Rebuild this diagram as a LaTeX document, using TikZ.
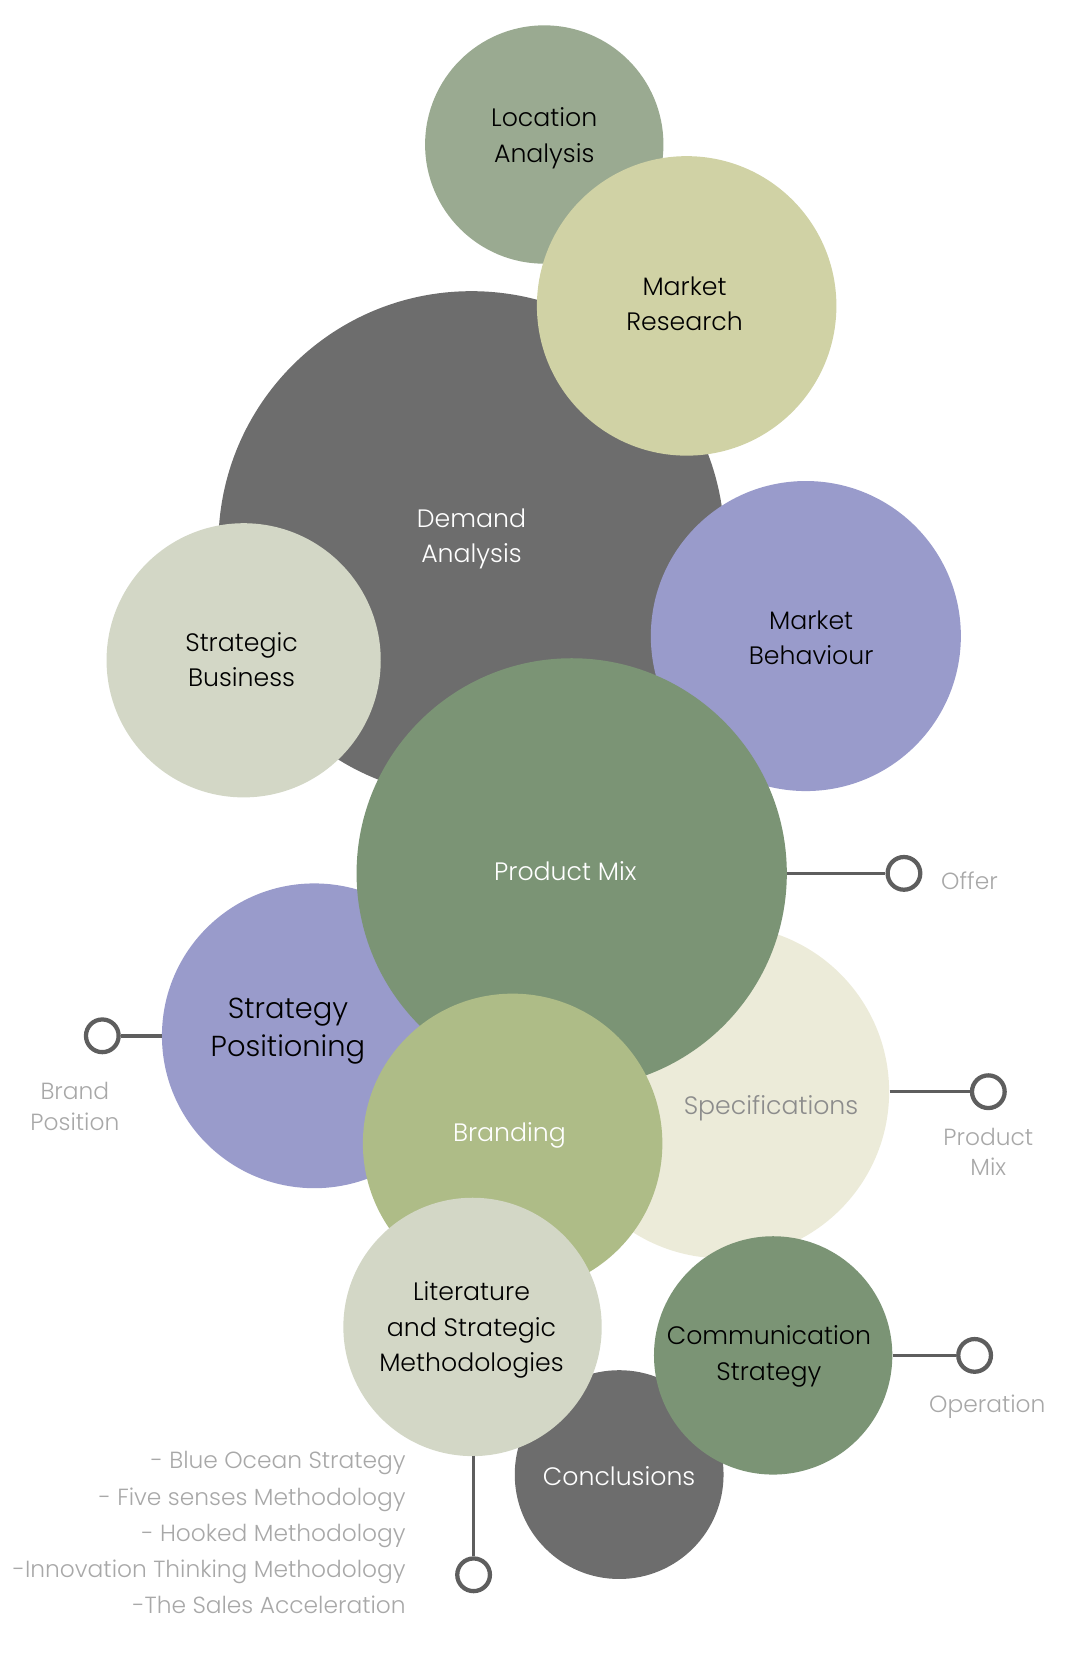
\documentclass[tikz,border=0pt]{standalone}
\usepackage{fontspec}
\setmainfont{Poppins Light}
\usetikzlibrary{positioning}

\definecolor{darkgrey}{HTML}{6D6D6D}
\definecolor{sage}{HTML}{9AAA91}
\definecolor{straw}{HTML}{D0D2A5}
\definecolor{mist}{HTML}{D3D7C6}
\definecolor{lavender}{HTML}{999BCB}
\definecolor{fern}{HTML}{7B9475}
\definecolor{cream}{HTML}{ECEBD9}
\definecolor{olive}{HTML}{AEBC87}
\definecolor{linkgrey}{HTML}{5E5E5E}
\definecolor{notegrey}{HTML}{A8A8A8}

\tikzset{
    bubble/.style={circle, inner sep=0pt, align=center, font=\fontsize{13.6}{19}\selectfont},
    ring/.style={circle, draw=linkgrey, fill=white, line width=2.3pt, minimum size=0.62cm, inner sep=0pt},
    link/.style={draw=linkgrey, line width=1.9pt},
    note/.style={text=notegrey, align=center, inner sep=0pt, font=\fontsize{12.6}{16.5}\selectfont}
}

\begin{document}
\begin{tikzpicture}[x=0.02cm, y=-0.02cm]
    \useasboundingbox (0,0) rectangle (1024,1570);

    % top cluster
    \node[bubble, fill=sage, minimum size=4.52cm] (loc) at (516,137) {};
    \node[bubble] (loctext) at (516,131) {Location\\Analysis};
    \node[bubble, fill=darkgrey, minimum size=9.6cm, text=white] (dem) at (447,516) {};
    \node[bubble, text=white] (demtext) at (447,511) {Demand\\Analysis};
    \node[bubble, fill=straw, minimum size=5.68cm] (res) at (651,290) {};
    \node[bubble] (restext) at (649,288) {Market\\Research};
    \node[bubble, fill=mist, minimum size=5.2cm] (bus) at (231,626) {};
    \node[bubble] (bustext) at (229,625) {Strategic\\Business};
    \node[bubble, fill=lavender, minimum size=5.88cm] (beh) at (764,603) {};
    \node[bubble] (behtext) at (769,605) {Market\\Behaviour};

    % middle cluster
    \node[bubble, fill=cream, minimum size=6.32cm] (spec) at (685,1035) {};
    \node[bubble, fill=lavender, minimum size=5.78cm] (pos) at (298,982) {};
    \node[bubble, font=\fontsize{15.6}{20.5}\selectfont] (postext) at (273,978) {Strategy\\Positioning};
    \node[bubble, fill=fern, minimum size=8.16cm] (mix) at (542,828) {};
    \node[bubble, text=white] (mixtext) at (536,826) {Product Mix};
    \node[bubble, text=black!45] (spectext) at (731,1051) {Specifications};
    \node[bubble, fill=olive, minimum size=5.68cm] (brand) at (486,1084) {};
    \node[bubble, text=white] (brandtext) at (483,1076) {Branding};

    % bottom cluster
    \node[bubble, fill=darkgrey, minimum size=3.96cm, text=white] (conc) at (587,1398) {};
    \node[bubble, text=white] (conctext) at (587,1399) {Conclusions};
    \node[bubble, fill=fern, minimum size=4.52cm] (comm) at (733,1285) {};
    \node[bubble] (commtext) at (729,1286) {Communication\\Strategy};
    \node[bubble, fill=mist, minimum size=4.9cm] (lit) at (448,1258) {};
    \node[bubble] (littext) at (447,1261) {Literature\\and Strategic\\Methodologies};

    % connectors
    \node[ring] (offer) at (857,828) {};
    \node[ring] (prodring) at (937,1035) {};
    \node[ring] (oper) at (924,1285) {};
    \node[ring] (brandring) at (97,982) {};
    \node[ring] (methring) at (449,1493) {};

    \draw[link] (mix.east) -- (offer.west);
    \draw[link] (spec.east) -- (prodring.west);
    \draw[link] (comm.east) -- (oper.west);
    \draw[link] (pos.west) -- (brandring.east);
    \draw[link] (449,1380) -- (methring.north);

    % notes
    \node[note, anchor=west] (offertext) at (892,835) {Offer};
    \node[note] (prodtext) at (937,1092) {Product\\Mix};
    \node[note] (opertext) at (936,1334) {Operation};
    \node[note] (brandpos) at (71,1049) {Brand\\Position};
    \node[note, align=right, anchor=east, font=\fontsize{12.6}{19.5}\selectfont] (methods) at (385,1453)
        {- Blue Ocean Strategy\\- Five senses Methodology\\- Hooked Methodology\\-Innovation Thinking Methodology\\-The Sales Acceleration\hspace{5pt}};
\end{tikzpicture}
\end{document}
